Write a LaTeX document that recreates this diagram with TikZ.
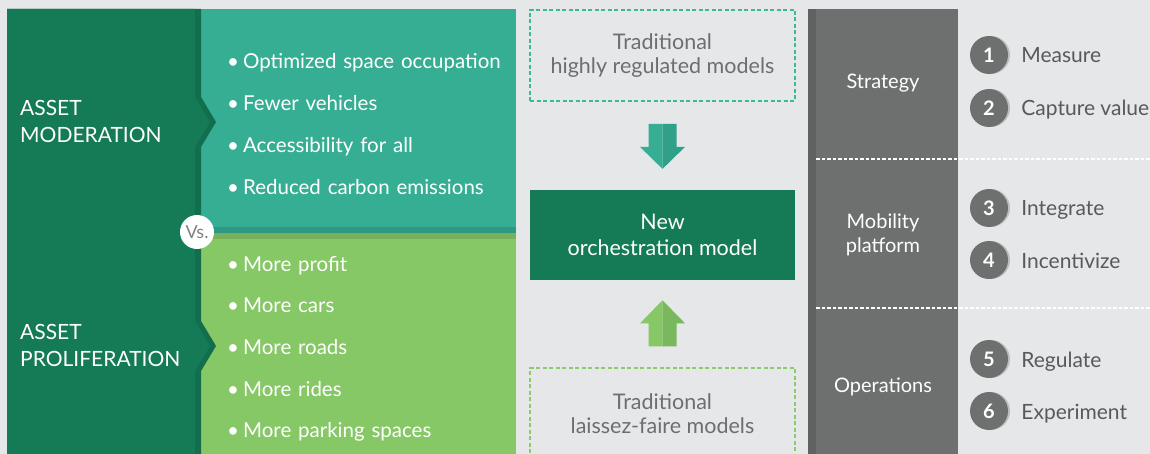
\documentclass[tikz,border=0pt]{standalone}
\usepackage{fontspec}
\setmainfont{Lato}
\usepackage{tikz}
\usetikzlibrary{positioning}
\usetikzlibrary{calc}
\usetikzlibrary{shadows}
\definecolor{bggray}{HTML}{E6E7E8}
\definecolor{darkgreen}{HTML}{157B56}
\definecolor{darkgreenedge}{HTML}{126E4D}
\definecolor{tealbox}{HTML}{36AE93}
\definecolor{tealdark}{HTML}{2F9883}
\definecolor{tealarrow}{HTML}{31A089}
\definecolor{tealdot}{HTML}{3DB89A}
\definecolor{greenbox}{HTML}{86C766}
\definecolor{greendark}{HTML}{78B05B}
\definecolor{greenarrow}{HTML}{7AB85D}
\definecolor{greendot}{HTML}{8CCB6C}
\definecolor{panelgray}{HTML}{6E6F6F}
\definecolor{stripgray}{HTML}{606161}
\definecolor{txtgray}{HTML}{6D6E71}
\definecolor{lblgray}{HTML}{58595B}
\definecolor{vsgray}{HTML}{808285}
\definecolor{shadowgray}{HTML}{BDBEBF}
\tikzstyle{item} = [text=white, font=\fontsize{20.5}{24}\selectfont, text width=275pt, align=left, inner sep=0pt, text height=15pt, text depth=5pt]
\tikzstyle{head} = [text=white, font=\fontsize{21}{27}\selectfont, align=left, inner sep=0pt, anchor=west]
\tikzstyle{dotbox} = [draw, line width=1.8pt, dash pattern=on 4pt off 2.5pt, minimum width=265pt, minimum height=91pt, inner sep=0pt, align=center, text=txtgray, font=\fontsize{21.5}{24}\selectfont]
\tikzstyle{newbox} = [fill=darkgreen, minimum width=265pt, minimum height=90pt, inner sep=0pt, align=center, text=white, font=\fontsize{21.5}{26}\selectfont]
\tikzstyle{layer} = [text=white, align=center, inner sep=0pt, font=\fontsize{20}{24}\selectfont]
\tikzstyle{num} = [circle, fill=panelgray, minimum size=38pt, inner sep=0pt, text=white, font=\fontsize{20}{24}\bfseries, drop shadow={shadow xshift=2pt, shadow yshift=0pt, opacity=1, fill=shadowgray}]
\tikzstyle{numlabel} = [inner sep=0pt, text=lblgray, text height=17pt, text depth=1pt, font=\fontsize{21}{24}\selectfont]

\begin{document}
\begin{tikzpicture}[x=1pt, y=-1pt]
    \useasboundingbox [fill=bggray] (0,0) rectangle (1150,454);

    % asset panels
    \fill [tealbox] (201,9) rectangle (516,233);
    \fill [tealdark] (201,227) rectangle (516,233);
    \fill [greenbox] (201,233) rectangle (516,454);
    \fill [greendark] (201,233) rectangle (516,239);
    \fill [darkgreenedge] (7,9) -- (201,9) -- (201,97) -- (216,122) -- (201,147) -- (201,321) -- (216,346) -- (201,371) -- (201,454) -- (7,454) -- cycle;
    \fill [darkgreen] (7,9) -- (195,9) -- (195,97) -- (210,122) -- (195,147) -- (195,321) -- (210,346) -- (195,371) -- (195,454) -- (7,454) -- cycle;

    \node [head] (moderation) at (20,121) {ASSET\\MODERATION};
    \node [head] (proliferation) at (20,345) {ASSET\\PROLIFERATION};
    \node [circle, fill=white, minimum size=34pt, inner sep=0pt, text=vsgray, font=\fontsize{18}{20}\selectfont] (vs) at (197,232) {Vs.};

    \node [item, anchor=west] (space) at (227,64) {\textbullet\hspace{4pt}Optimized space occupation};
    \node [item, below = 21.3pt of space] (fewer) {\textbullet\hspace{4pt}Fewer vehicles};
    \node [item, below = 21.3pt of fewer] (access) {\textbullet\hspace{4pt}Accessibility for all};
    \node [item, below = 21.3pt of access] (carbon) {\textbullet\hspace{4pt}Reduced carbon emissions};

    \node [item, anchor=west] (profit) at (227,266) {\textbullet\hspace{4pt}More profit};
    \node [item, below = 21.3pt of profit] (cars) {\textbullet\hspace{4pt}More cars};
    \node [item, below = 21.3pt of cars] (roads) {\textbullet\hspace{4pt}More roads};
    \node [item, below = 21.3pt of roads] (rides) {\textbullet\hspace{4pt}More rides};
    \node [item, below = 21.3pt of rides] (parking) {\textbullet\hspace{4pt}More parking spaces};

    % models
    \node [dotbox, draw=tealdot] (tradreg) at (662.5,55.5) {Traditional\\highly regulated models};
    \node [newbox, below = 88pt of tradreg] (neworch) {New\\orchestration model};
    \node [dotbox, draw=greendot, below = 87pt of neworch] (tradfree) {Traditional\\laissez-faire models};

    \coordinate (dtop) at ($(tradreg.south)+(0,22)$);
    \coordinate (dtip) at ($(neworch.north)+(0,-21)$);
    \fill [tealbox] ($(dtop)+(-14,0)$) -- (dtop) -- (dtip) -- ($(dtip)+(-22.5,-22)$) -- ($(dtop)+(-14,23)$) -- cycle;
    \fill [tealarrow] ($(dtop)+(14,0)$) -- (dtop) -- (dtip) -- ($(dtip)+(22.5,-22)$) -- ($(dtop)+(14,23)$) -- cycle;

    \coordinate (utip) at ($(neworch.south)+(0,20)$);
    \coordinate (ubot) at ($(tradfree.north)+(0,-21)$);
    \fill [greenbox] (utip) -- (ubot) -- ($(ubot)+(-14,0)$) -- ($(ubot)+(-14,-23)$) -- ($(utip)+(-22.5,23)$) -- cycle;
    \fill [greenarrow] (utip) -- (ubot) -- ($(ubot)+(14,0)$) -- ($(ubot)+(14,-23)$) -- ($(utip)+(22.5,23)$) -- cycle;

    % layers
    \fill [panelgray] (808,9) rectangle (958,454);
    \fill [stripgray] (808,9) rectangle (816,454);
    \draw [white, line width=1.5pt, dash pattern=on 3.5pt off 2pt] (816,159) -- (1150,159);
    \draw [white, line width=1.5pt, dash pattern=on 3.5pt off 2pt] (816,308) -- (1150,308);

    \node [layer] (strategy) at (883,83) {Strategy};
    \node [layer] (platform) at (883,235) {Mobility\\platform};
    \node [layer] (operations) at (883,387) {Operations};

    \node [num] (n1) at (989,55) {1};
    \node [num] (n2) at (989,108) {2};
    \node [num] (n3) at (989,208) {3};
    \node [num] (n4) at (989,260) {4};
    \node [num] (n5) at (989,359) {5};
    \node [num] (n6) at (989,411) {6};
    \node [numlabel, right = 13pt of n1] (measure) {Measure};
    \node [numlabel, right = 13pt of n2] (capture) {Capture value};
    \node [numlabel, right = 13pt of n3] (integrate) {Integrate};
    \node [numlabel, right = 13pt of n4] (incentivize) {Incentivize};
    \node [numlabel, right = 13pt of n5] (regulate) {Regulate};
    \node [numlabel, right = 13pt of n6] (experiment) {Experiment};
\end{tikzpicture}
\end{document}
